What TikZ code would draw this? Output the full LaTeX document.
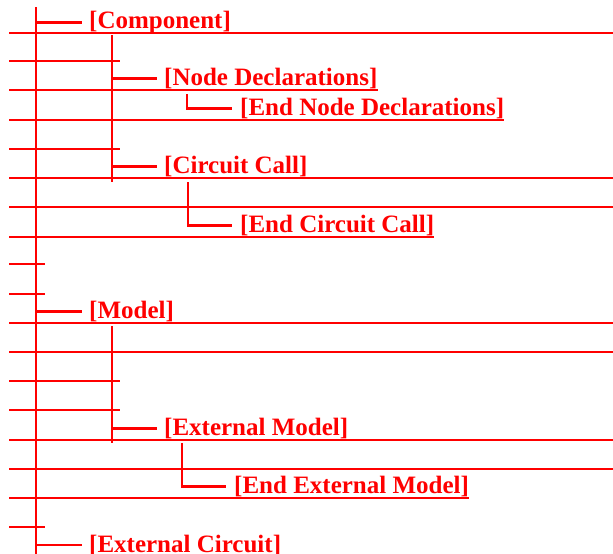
\documentclass[tikz,border=0pt]{standalone}
\usepackage{fontspec}
\setmainfont{Liberation Serif}
\usepackage{tikz}
\usetikzlibrary{positioning, calc}

\begin{document}
\begin{tikzpicture}[
        x=1pt, y=-1pt, % 1 unit = 1 pixel of the page, y grows downwards
        rotulo/.style={anchor=base west, inner sep=0pt, text=red, font=\bfseries\fontsize{25}{30}\selectfont},
        linha/.style={draw=red, line width=2.4pt}
        ]
        \useasboundingbox (0,0) rectangle (613,554);

        % Trunk and branch coordinates
        \coordinate (tronco) at (36,7);
        \coordinate (ramoA) at (112,35);
        \coordinate (ramoB) at (112,326);
        \coordinate (cotoA) at (187,94);
        \coordinate (cotoB) at (188,182);
        \coordinate (cotoC) at (182,443);

        % Labels
        \node[rotulo] (comp)  at (89,28.5)  {[Component]};
        \node[rotulo] (nd)    at (164,85.5) {[Node Declarations]};
        \node[rotulo] (endnd) at (240,115.5)  {[End Node Declarations]};
        \node[rotulo] (cc)    at (164,173.5) {[Circuit Call]};
        \node[rotulo] (endcc) at (240,232.5) {[End Circuit Call]};
        \node[rotulo] (mod)   at (89,318.5) {[Model]};
        \node[rotulo] (em)    at (164,435.5) {[External Model]};
        \node[rotulo] (endem) at (234,493.5) {[End External Model]};
        \node[rotulo] (ec)    at (89,552)   {[External Circuit]};

        % Horizontal rules
        \foreach \y in {33,178,207,323,352,440,469}
            \draw[linha] (9,\y) -- (613,\y);
        \foreach \y in {61,149,381,410}
            \draw[linha] (9,\y) -- (120,\y);
        \foreach \y in {264,294,527}
            \draw[linha] (9,\y) -- (45,\y);
        \draw[linha] (9,90)  -- ([yshift=-4.5pt]nd.base east);
        \draw[linha] (9,120) -- ([yshift=-4.5pt]endnd.base east);
        \draw[linha] (9,237) -- ([yshift=-4.5pt]endcc.base east);
        \draw[linha] (9,498) -- ([yshift=-4.5pt]endem.base east);

        % Vertical lines
        \draw[linha] (tronco) -- (36,554);
        \draw[linha] (ramoA) -- (112,182);
        \draw[linha] (ramoB) -- (112,443);

        % Branches to the labels
        \draw[linha] (tronco |- comp.west) -- ([xshift=-7pt]comp.west);
        \draw[linha] (ramoA |- nd.west) -- ([xshift=-7pt]nd.west);
        \draw[linha] (cotoA) |- ([xshift=-8pt]endnd.west);
        \draw[linha] (ramoA |- cc.west) -- ([xshift=-7pt]cc.west);
        \draw[linha] (cotoB) |- ([xshift=-8pt]endcc.west);
        \draw[linha] (tronco |- mod.west) -- ([xshift=-7pt]mod.west);
        \draw[linha] (ramoB |- em.west) -- ([xshift=-7pt]em.west);
        \draw[linha] (cotoC) |- ([xshift=-8pt]endem.west);
        \draw[linha] (tronco |- ec.west) -- ([xshift=-7pt]ec.west);

    \end{tikzpicture}
\end{document}
